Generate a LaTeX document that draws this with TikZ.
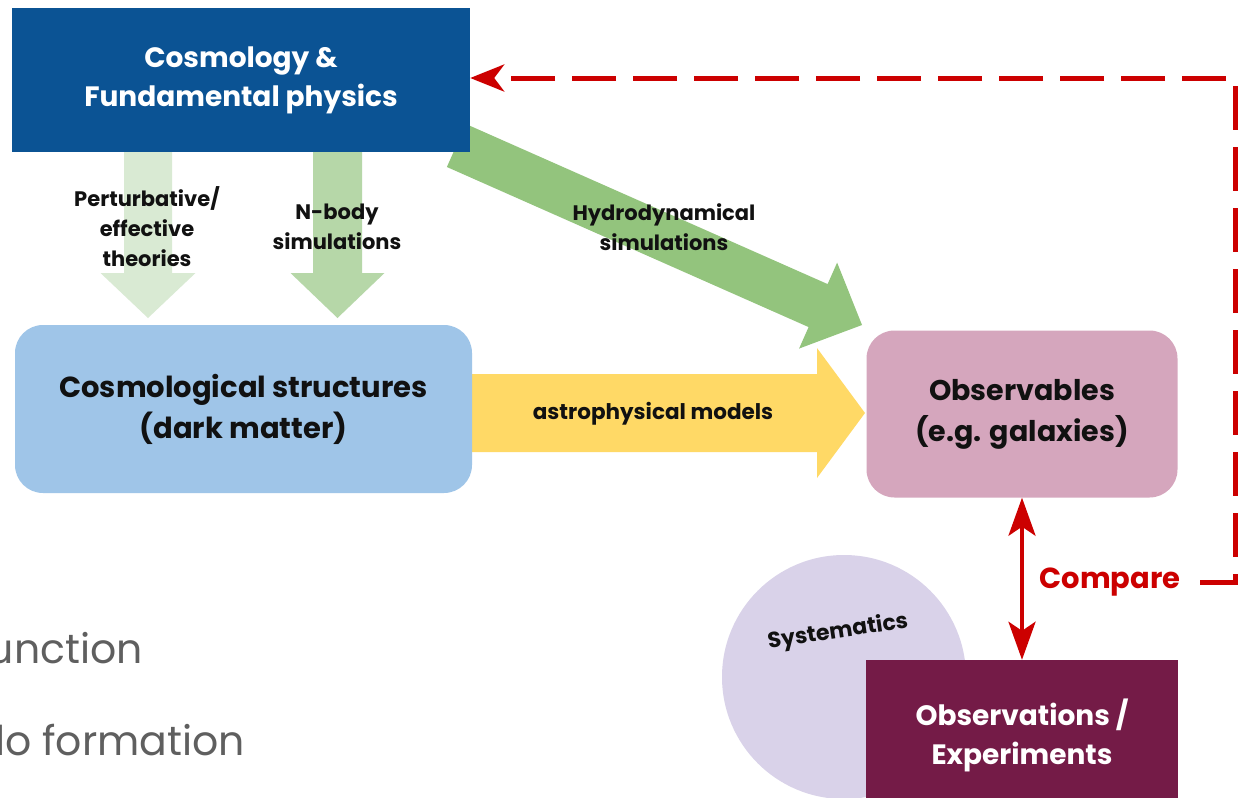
\documentclass[tikz,border=0pt]{standalone}
\usepackage{fontspec}
\setmainfont{Poppins}
\usetikzlibrary{calc,arrows.meta}
\definecolor{cdblue}{HTML}{0B5394}
\definecolor{clblue}{HTML}{9FC5E8}
\definecolor{cgreenA}{HTML}{D9EAD3}
\definecolor{cgreenB}{HTML}{B6D7A8}
\definecolor{cgreenC}{HTML}{93C47D}
\definecolor{cyellow}{HTML}{FFD966}
\definecolor{cpink}{HTML}{D5A6BD}
\definecolor{cplum}{HTML}{741B47}
\definecolor{clilac}{HTML}{D9D2E9}
\definecolor{cred}{HTML}{CC0000}
\definecolor{cgray}{HTML}{5F5F5F}
\definecolor{ctext}{HTML}{111111}
\newcommand{\blkarrow}[6]{%
  \coordinate (ba) at ($(#2)!#5!(#1)$);
  \fill[#6] ($(#1)!#3!90:(#2)$) -- ($(ba)!#3!90:(#2)$) -- ($(ba)!#4!90:(#2)$) -- (#2)
    -- ($(ba)!#4!-90:(#2)$) -- ($(ba)!#3!-90:(#2)$) -- ($(#1)!#3!-90:(#2)$) -- cycle;
}
\tikzset{
  boxtxt/.style={align=center, inner sep=0pt, font=\bfseries\fontsize{28}{39}\selectfont},
  sqbox/.style={boxtxt, rectangle},
  rndbox/.style={boxtxt, rectangle, rounded corners=28pt},
  lbl/.style={align=center, inner sep=0pt, text=ctext, font=\bfseries\fontsize{21}{30}\selectfont},
  graytxt/.style={inner sep=0pt, text=cgray, font=\fontsize{41}{50}\selectfont},
  cmpline/.style={draw=cred, line width=5pt, dash pattern=on 44pt off 17pt},
}
\begin{document}
\begin{tikzpicture}[x=1pt,y=-1pt]
\clip (0,0) rectangle (1243,798);
\fill[white] (0,0) rectangle (1243,798);

% block arrows (drawn under the boxes)
\coordinate (pa) at (148,148);  \coordinate (pb) at (148,318);
\coordinate (na) at (337.5,148); \coordinate (nb) at (337.5,318);
\coordinate (ha) at (456.4,145.5); \coordinate (hb) at (862,325);
\coordinate (ya) at (468,413);  \coordinate (yb) at (865,413);
\blkarrow{pa}{pb}{24pt}{47.5pt}{45pt}{cgreenA}
\blkarrow{na}{nb}{24.5pt}{47pt}{45pt}{cgreenB}
\blkarrow{ha}{hb}{23.5pt}{47pt}{48pt}{cgreenC}
\blkarrow{ya}{yb}{39pt}{65pt}{48pt}{cyellow}

% boxes
\node[sqbox, fill=cdblue, text=white, minimum width=458pt, minimum height=144pt] (cosmo) at (241,80)
  {Cosmology \&\\Fundamental physics};
\node[rndbox, fill=clblue, text=ctext, minimum width=457pt, minimum height=168pt,
  font=\bfseries\fontsize{29}{41}\selectfont] (struct) at (243.5,409)
  {Cosmological structures\\(dark matter)};
\node[rndbox, fill=cpink, text=ctext, minimum width=311pt, minimum height=167pt,
  font=\bfseries\fontsize{28.5}{41}\selectfont] (obs) at (1022,414)
  {Observables\\(e.g. galaxies)};

% systematics + experiments
\node[circle, fill=clilac, minimum size=244pt, inner sep=0pt] (sys) at (844,677) {};
\node[rotate=8.5, inner sep=0pt, text=ctext, font=\bfseries\fontsize{22}{26}\selectfont] (systxt) at (838,632) {Systematics};
\node[sqbox, fill=cplum, text=white, minimum width=312pt, minimum height=150pt,
  font=\bfseries\fontsize{28}{39}\selectfont] (exp) at (1022,735)
  {Observations /\\Experiments};

% labels
\node[lbl] (lpert) at (147,227) {Perturbative/\\effective\\theories};
\node[lbl] (lnbody) at (337,227) {N-body\\simulations};
\node[lbl] (lhydro) at (664,227) {Hydrodynamical\\simulations};
\node[lbl, font=\bfseries\fontsize{21.5}{30}\selectfont] (lastro) at (653,414) {astrophysical models};

% compare
\node[inner sep=0pt, text=cred, font=\bfseries\fontsize{29}{34}\selectfont] (cmp) at (1110,582) {Compare};
\draw[cred, line width=4pt, {Stealth[length=38pt,width=27pt,inset=9pt]}-{Stealth[length=38pt,width=27pt,inset=9pt]}]
  (obs.south) -- (exp.north);
\coordinate (c0) at (1200,582);
\coordinate (c1) at (1235.5,582);
\coordinate (c2) at (1235.5,78);
\draw[cmpline, -{Stealth[length=34pt,width=27pt,inset=10pt]}] (c0) -- (c1) -- (c2) -- (cosmo.east |- c2);

% gray partial text at the left edge
\node[graytxt, anchor=base east] (g1) at (143,663) {unction};
\node[graytxt, anchor=base east] (g2) at (245,755) {lo formation};
\end{tikzpicture}
\end{document}
